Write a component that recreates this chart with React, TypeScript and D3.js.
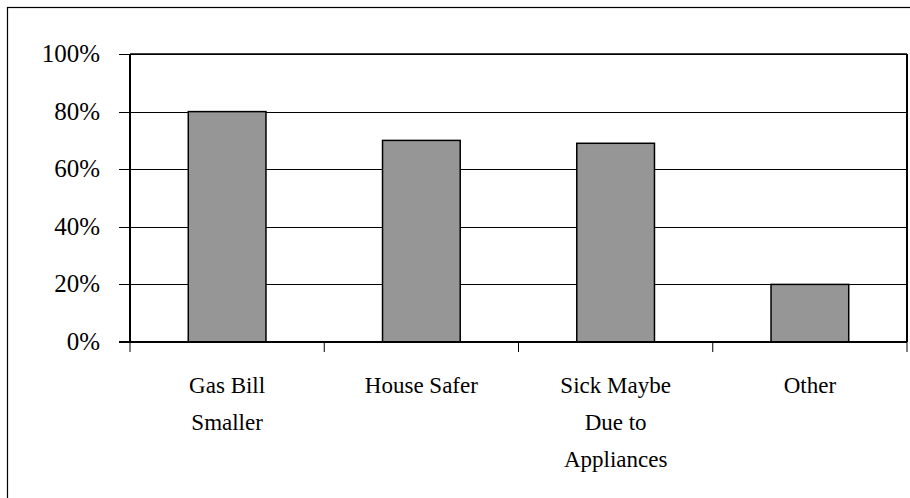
import React from 'react';
import * as d3 from 'd3';

const categories = ['Gas Bill Smaller', 'House Safer', 'Sick Maybe Due to Appliances', 'Other'];
const labelLines = [['Gas Bill', 'Smaller'], ['House Safer'], ['Sick Maybe', 'Due to', 'Appliances'], ['Other']];
const values = [0.8, 0.7, 0.69, 0.2];
const yTicks = [0, 0.2, 0.4, 0.6, 0.8, 1];

const W = 910, H = 498;
const left = 130, right = 907, top = 54, bottom = 342;
// letter-spacing makes this renderer fall back to a sans face, so text is left unspaced
const FONT = '"Liberation Serif"';

const App: React.FC = () => {
  const x = d3.scaleBand<string>().domain(categories).range([left, right]).paddingInner(0.6).paddingOuter(0.3);
  const y = d3.scaleLinear().domain([0, 1]).range([bottom, top]);
  const bounds = d3.range(categories.length + 1).map((i) => left + i * ((right - left) / categories.length));
  const fmt = d3.format('.0%');

  return (
    <svg width={W} height={H} style={{ position: 'absolute', left: 0, top: 0, background: '#fff' }}>
      {/* outer frame */}
      <rect x={7.5} y={7.5} width={W} height={H} fill="none" stroke="#000" strokeWidth={1.2} />

      {/* gridlines */}
      {yTicks.map((t) => (
        <line key={t} x1={left - 11} x2={right} y1={Math.round(y(t)) + 0.5} y2={Math.round(y(t)) + 0.5}
              stroke="#000" strokeWidth={1} />
      ))}
      {/* y tick labels */}
      {yTicks.map((t) => (
        <text key={'l' + t} x={100} y={y(t) + 8} textAnchor="end" fontSize={25} fill="#000"
              style={{ fontFamily: FONT }}>
          {fmt(t)}
        </text>
      ))}

      {/* bars */}
      {categories.map((c, i) => (
        <rect key={c} x={x(c)!} y={y(values[i])} width={x.bandwidth()} height={bottom - y(values[i])}
              fill="#969696" stroke="#000" strokeWidth={1.5} />
      ))}

      {/* plot frame */}
      <line x1={left} x2={left} y1={top} y2={bottom} stroke="#000" strokeWidth={2} />
      <line x1={right} x2={right} y1={top} y2={bottom} stroke="#000" strokeWidth={2} />
      <line x1={left} x2={right} y1={top} y2={top} stroke="#000" strokeWidth={1.5} />
      <line x1={left - 11} x2={right} y1={bottom} y2={bottom} stroke="#000" strokeWidth={2} />

      {/* x ticks */}
      {bounds.map((b, i) => (
        <line key={'t' + i} x1={b} x2={b} y1={bottom} y2={bottom + 10} stroke="#000" strokeWidth={1} />
      ))}

      {/* category labels */}
      {categories.map((c, i) => (
        <text key={'c' + c} textAnchor="middle" fontSize={23} fill="#000" style={{ fontFamily: FONT }}>
          {labelLines[i].map((ln, j) => (
            <tspan key={j} x={x(c)! + x.bandwidth() / 2} y={392.5 + j * 37}>{ln}</tspan>
          ))}
        </text>
      ))}
    </svg>
  );
};

export default App;
